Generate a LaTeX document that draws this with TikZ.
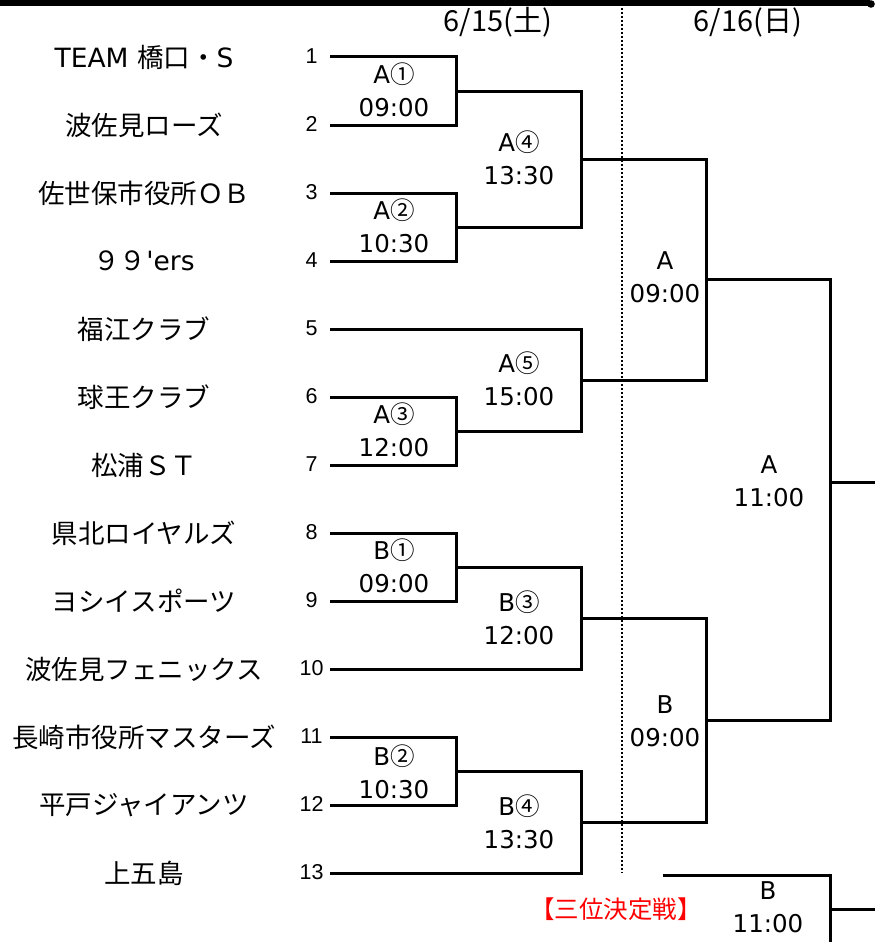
\documentclass[tikz,border=0pt]{standalone}
\usepackage{fontspec}
\setmainfont{DejaVu Sans}
\newfontfamily\jp{Noto Sans CJK JP}
\newfontfamily\dv{DejaVu Sans}
\newfontfamily\ls{Liberation Sans}
\begin{document}
\begin{tikzpicture}[x=1pt,y=-1pt,
  br/.style={line width=3pt, line join=miter},
  team/.style={font=\jp\fontsize{26.5}{30}\selectfont, inner sep=0pt},
  num/.style={font=\ls\fontsize{21.5}{24}\selectfont, inner sep=0pt},
  lbl/.style={align=center, font=\dv\fontsize{24.5}{33.5}\selectfont, inner sep=0pt},
  date/.style={font=\jp\fontsize{29}{32}\selectfont, inner sep=0pt},
  dots/.style={line width=2.2pt, dash pattern=on 2pt off 2pt}]
\useasboundingbox (0,0) rectangle (882,942);
% top rule
\draw[line width=6pt] (0,3.5) -- (870,3.5);
\fill (871,4) circle (3.8);
% dates
\node[date] (d1) at (498,22) {6/15(土)};
\node[date] (d2) at (748,22) {6/16(日)};
\draw[dots] (622,8) -- (622,873);
% teams
\foreach \i/\t in {1/{{\dv TEAM }橋口・{\dv S}},2/波佐見ローズ,3/佐世保市役所ＯＢ,4/{９９{\dv\textquotesingle ers}},5/福江クラブ,6/球王クラブ,7/松浦ＳＴ,8/県北ロイヤルズ,9/ヨシイスポーツ,10/波佐見フェニックス,11/長崎市役所マスターズ,12/平戸ジャイアンツ,13/上五島}{
  \node[team] (t\i) at (144,{57+(\i-1)*68}) {\t};
  \node[num] (n\i) at (311.5,{56+(\i-1)*68}) {\i};
  \coordinate (s\i) at (330,{57+(\i-1)*68});
}
% junctions
\coordinate (mA1) at (456,91);
\coordinate (mA2) at (456,227);
\coordinate (mA3) at (456,431);
\coordinate (mB1) at (456,567);
\coordinate (mB2) at (456,771);
\coordinate (jA4) at (581,159);
\coordinate (jA5) at (581,380);
\coordinate (jB3) at (581,618);
\coordinate (jB4) at (581,822);
\coordinate (jSA) at (706,279);
\coordinate (jSB) at (706,720);
\coordinate (jF) at (830,482);
\coordinate (fEnd) at (875,482);
\coordinate (tpA) at (663,875);
\coordinate (tpJ) at (830,909);
\coordinate (tpBot) at (830,946);
\coordinate (tpEnd) at (875,909);
% brackets
\draw[br] (s1) -| (mA1) |- (s2);
\draw[br] (s3) -| (mA2) |- (s4);
\draw[br] (s6) -| (mA3) |- (s7);
\draw[br] (s8) -| (mB1) |- (s9);
\draw[br] (s11) -| (mB2) |- (s12);
\draw[br] (mA1) -| (jA4) |- (mA2);
\draw[br] (s5) -| (jA5) |- (mA3);
\draw[br] (mB1) -| (jB3) |- (s10);
\draw[br] (mB2) -| (jB4) |- (s13);
\draw[br] (jA4) -| (jSA) |- (jA5);
\draw[br] (jB3) -| (jSB) |- (jB4);
\draw[br] (jSA) -| (jF) |- (jSB);
\draw[br] (jF) -- (fEnd);
\draw[br] (tpA) -| (tpBot);
\draw[br] (tpJ) -- (tpEnd);
% labels
\node[lbl] (LA1) at (394,90) {A{\jp ①}\\09:00};
\node[lbl] (LA2) at (394,226) {A{\jp ②}\\10:30};
\node[lbl] (LA3) at (394,430) {A{\jp ③}\\12:00};
\node[lbl] (LB1) at (394,566) {B{\jp ①}\\09:00};
\node[lbl] (LB2) at (394,772) {B{\jp ②}\\10:30};
\node[lbl] (LA4) at (519,158) {A{\jp ④}\\13:30};
\node[lbl] (LA5) at (519,379) {A{\jp ⑤}\\15:00};
\node[lbl] (LB3) at (519,618) {B{\jp ③}\\12:00};
\node[lbl] (LB4) at (519,822) {B{\jp ④}\\13:30};
\node[lbl] (LSA) at (665,277) {A\\09:00};
\node[lbl] (LSB) at (665,721) {B\\09:00};
\node[lbl] (LF) at (769,481) {A\\11:00};
\node[lbl] (LT) at (768,907) {B\\11:00};
\node[font=\jp\fontsize{24.5}{28}\selectfont, text=red, inner sep=0pt] (third) at (616,909) {【三位決定戦】};
\end{tikzpicture}
\end{document}
